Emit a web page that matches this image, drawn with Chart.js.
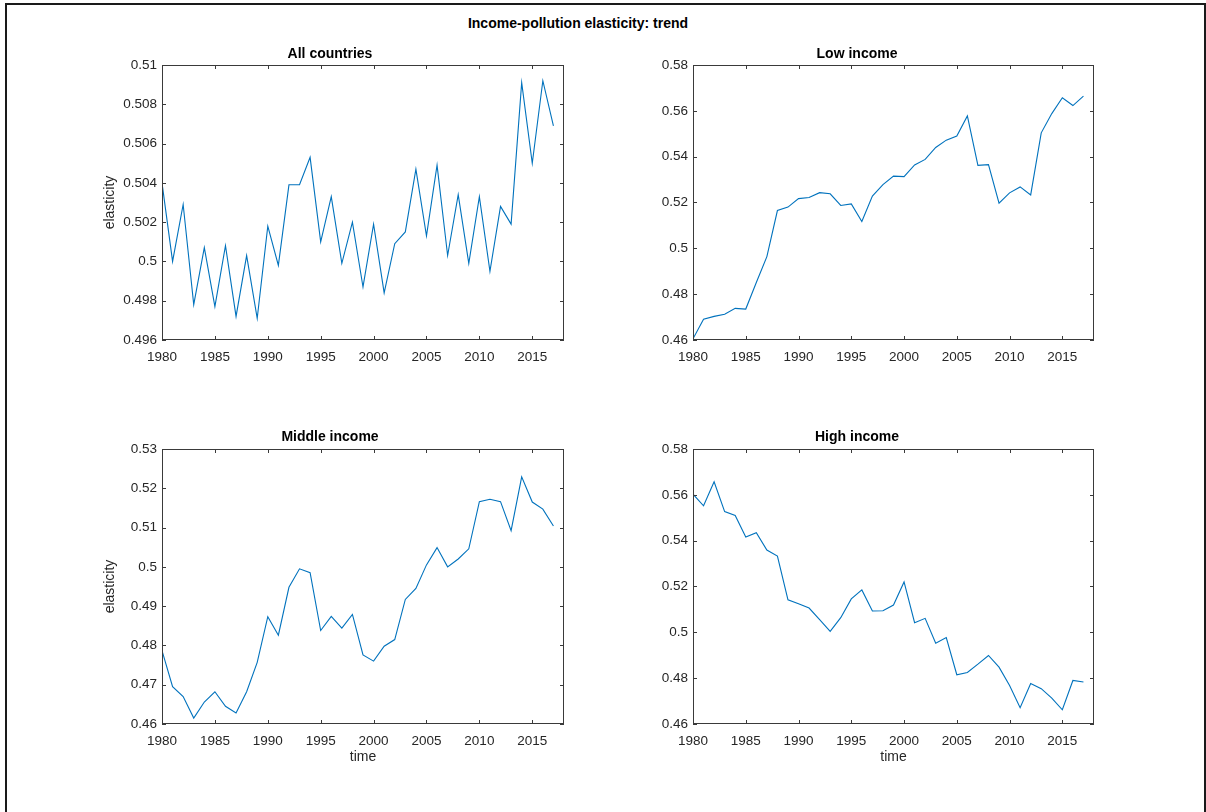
<!DOCTYPE html>
<html>
<head>
<meta charset="utf-8">
<script src="https://cdn.jsdelivr.net/npm/chart.js@4"></script>
<style>
  body { margin: 0; background: #fff; width: 1206px; height: 812px; overflow: hidden; position: relative; font-family: "Liberation Sans", Arial, sans-serif; }
  #frame { position: absolute; left: 5px; top: 3px; width: 1197px; height: 830px; border: 2px solid #1a1a1a; border-bottom: none; }
  #mainTitle { position: absolute; left: 0; width: 1156px; top: 15px; text-align: center; font-weight: bold; font-size: 14px; color: #000; }
  canvas { position: absolute; }
</style>
</head>
<body>
<div id="frame"></div>
<div id="mainTitle">Income-pollution elasticity: trend</div>
<canvas id="chartAll" width="484" height="340" style="left:96px; top:30px;"></canvas>
<canvas id="chartLow" width="490" height="340" style="left:620px; top:30px;"></canvas>
<canvas id="chartMid" width="484" height="360" style="left:96px; top:414px;"></canvas>
<canvas id="chartHigh" width="490" height="360" style="left:620px; top:414px;"></canvas>
<script>
const years = [1980, 1981, 1982, 1983, 1984, 1985, 1986, 1987, 1988, 1989,
               1990, 1991, 1992, 1993, 1994, 1995, 1996, 1997, 1998, 1999,
               2000, 2001, 2002, 2003, 2004, 2005, 2006, 2007, 2008, 2009,
               2010, 2011, 2012, 2013, 2014, 2015, 2016, 2017];

const allCountries = [0.5040, 0.5000, 0.5029, 0.4978, 0.5007, 0.4977, 0.5008, 0.4972, 0.5003, 0.4971,
                      0.5018, 0.4998, 0.5039, 0.5039, 0.5053, 0.5010, 0.5033, 0.4999, 0.5020, 0.4987,
                      0.5019, 0.4984, 0.5009, 0.5015, 0.5047, 0.5013, 0.5049, 0.5003, 0.5034, 0.4999,
                      0.5033, 0.4995, 0.5028, 0.5019, 0.5091, 0.5050, 0.5092, 0.5069];

const lowIncome = [0.4605, 0.4691, 0.4703, 0.4712, 0.4738, 0.4735, 0.4851, 0.4964, 0.5165, 0.5180,
                   0.5217, 0.5222, 0.5243, 0.5238, 0.5187, 0.5194, 0.5117, 0.5228, 0.5278, 0.5315,
                   0.5313, 0.5364, 0.5388, 0.5440, 0.5472, 0.5490, 0.5578, 0.5362, 0.5365, 0.5197,
                   0.5242, 0.5268, 0.5233, 0.5504, 0.5588, 0.5657, 0.5623, 0.5664];

const middleIncome = [0.4787, 0.4695, 0.4670, 0.4615, 0.4656, 0.4682, 0.4645, 0.4628, 0.4682, 0.4757,
                      0.4873, 0.4826, 0.4948, 0.4995, 0.4985, 0.4838, 0.4874, 0.4844, 0.4879, 0.4776,
                      0.4760, 0.4798, 0.4815, 0.4917, 0.4945, 0.5005, 0.5049, 0.5000, 0.5020, 0.5046,
                      0.5166, 0.5172, 0.5166, 0.5092, 0.5229, 0.5165, 0.5147, 0.5104];

const highIncome = [0.5603, 0.5552, 0.5657, 0.5527, 0.5510, 0.5416, 0.5435, 0.5359, 0.5333, 0.5142,
                    0.5125, 0.5106, 0.5055, 0.5004, 0.5064, 0.5146, 0.5185, 0.5093, 0.5094, 0.5119,
                    0.5220, 0.5042, 0.5061, 0.4952, 0.4977, 0.4815, 0.4825, 0.4861, 0.4899, 0.4848,
                    0.4768, 0.4671, 0.4777, 0.4754, 0.4713, 0.4662, 0.4790, 0.4783];

const yearTicks = [1980, 1985, 1990, 1995, 2000, 2005, 2010, 2015];
const allTicks = [0.496, 0.498, 0.5, 0.502, 0.504, 0.506, 0.508, 0.51];
const lowTicks = [0.46, 0.48, 0.5, 0.52, 0.54, 0.56, 0.58];
const midTicks = [0.46, 0.47, 0.48, 0.49, 0.5, 0.51, 0.52, 0.53];
const highTicks = [0.46, 0.48, 0.5, 0.52, 0.54, 0.56, 0.58];

const fontFamily = '"Liberation Sans", Arial, sans-serif';
const axisColor = '#262626';

// matlab style box with inward ticks on all four sides
const matlabBox = {
    id: 'matlabBox',
    afterDraw(chart) {
        const { ctx, chartArea: a, scales: { x, y } } = chart;
        const len = 4;
        ctx.save();
        ctx.strokeStyle = '#3a3a3a';
        ctx.lineWidth = 1;
        ctx.strokeRect(Math.round(a.left) + 0.5, Math.round(a.top) + 0.5,
                       Math.round(a.width) - 1, Math.round(a.height) - 1);
        ctx.beginPath();
        x.ticks.forEach(t => {
            const px = Math.round(x.getPixelForValue(t.value)) + 0.5;
            ctx.moveTo(px, a.bottom); ctx.lineTo(px, a.bottom - len);
            ctx.moveTo(px, a.top); ctx.lineTo(px, a.top + len);
        });
        y.ticks.forEach(t => {
            const py = Math.round(y.getPixelForValue(t.value)) + 0.5;
            ctx.moveTo(a.left, py); ctx.lineTo(a.left + len, py);
            ctx.moveTo(a.right, py); ctx.lineTo(a.right - len, py);
        });
        ctx.stroke();
        ctx.restore();
    }
};

function makePanel(id, title, values, yTicks, opts) {
    const ctx = document.getElementById(id).getContext('2d');
    new Chart(ctx, {
        type: 'line',
        data: {
            datasets: [{
                data: years.map((yr, i) => ({ x: yr, y: values[i] })),
                borderColor: '#0072BD',
                borderWidth: 1.1,
                pointRadius: 0,
                tension: 0,
                fill: false
            }]
        },
        options: {
            responsive: false,
            animation: false,
            devicePixelRatio: 1,
            layout: { padding: { left: 0, right: 16, top: 0, bottom: 0 } },
            plugins: {
                legend: { display: false },
                tooltip: { enabled: false },
                title: {
                    display: true,
                    text: title,
                    color: '#000',
                    font: { family: fontFamily, size: 14, weight: 'bold' },
                    padding: { top: opts.titleTop, bottom: opts.titleBottom }
                }
            },
            scales: {
                x: {
                    type: 'linear',
                    min: 1980,
                    max: 2018,
                    grid: { display: false, drawTicks: false },
                    border: { display: false },
                    afterBuildTicks: s => { s.ticks = yearTicks.map(v => ({ value: v })); },
                    afterFit: s => { s.height = opts.xHeight; },
                    ticks: {
                        color: axisColor,
                        padding: 9,
                        maxRotation: 0,
                        autoSkip: false,
                        font: { family: fontFamily, size: 13.5 },
                        callback: v => String(v)
                    },
                    title: {
                        display: !!opts.xTitle,
                        text: opts.xTitle || '',
                        color: axisColor,
                        font: { family: fontFamily, size: 14 },
                        padding: { top: 0, bottom: 8 }
                    }
                },
                y: {
                    min: yTicks[0],
                    max: yTicks[yTicks.length - 1],
                    grid: { display: false, drawTicks: false },
                    border: { display: false },
                    afterBuildTicks: s => { s.ticks = yTicks.map(v => ({ value: v })); },
                    afterFit: s => { s.width = opts.yWidth; },
                    ticks: {
                        color: axisColor,
                        padding: 5,
                        autoSkip: false,
                        font: { family: fontFamily, size: 13.5 },
                        callback: v => String(v)
                    },
                    title: {
                        display: !!opts.yTitle,
                        text: opts.yTitle || '',
                        color: axisColor,
                        font: { family: fontFamily, size: 14 },
                        padding: { top: 5.6, bottom: 0 }
                    }
                }
            }
        },
        plugins: [matlabBox]
    });
}

makePanel('chartAll', 'All countries', allCountries, allTicks,
    { titleTop: 15.6, titleBottom: 2.6, xHeight: 30, yWidth: 66, yTitle: 'elasticity' });
makePanel('chartLow', 'Low income', lowIncome, lowTicks,
    { titleTop: 15.6, titleBottom: 2.6, xHeight: 30, yWidth: 73 });
makePanel('chartMid', 'Middle income', middleIncome, midTicks,
    { titleTop: 14.6, titleBottom: 3.6, xHeight: 50, yWidth: 66, yTitle: 'elasticity', xTitle: 'time' });
makePanel('chartHigh', 'High income', highIncome, highTicks,
    { titleTop: 14.6, titleBottom: 3.6, xHeight: 50, yWidth: 73, xTitle: 'time' });
</script>
</body>
</html>
